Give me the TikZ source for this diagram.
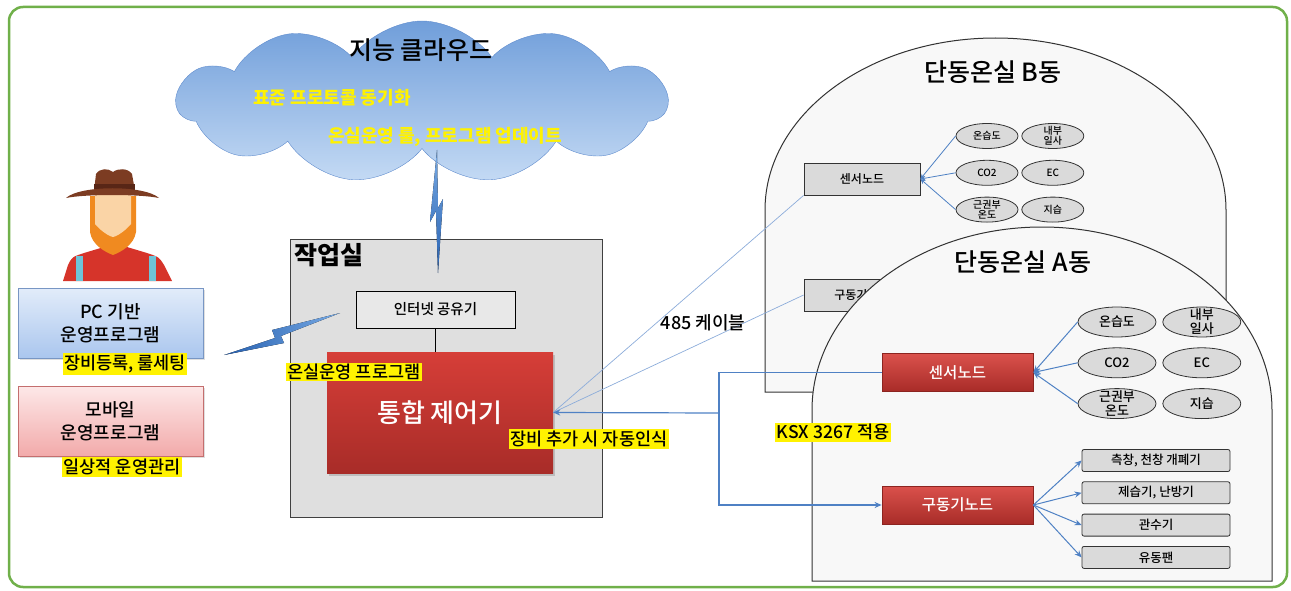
\documentclass[tikz,border=0pt]{standalone}
\usepackage{fontspec}
\setmainfont{Noto Sans CJK KR}
\newfontfamily\medfont{Noto Sans CJK KR Medium}
\usetikzlibrary{positioning, arrows.meta, shapes.geometric, shapes.symbols, shadows}

\definecolor{framegreen}{RGB}{112,176,74}
\definecolor{cloudtop}{RGB}{112,158,218}
\definecolor{cloudbot}{RGB}{196,218,244}
\definecolor{cloudedge}{RGB}{96,140,205}
\definecolor{boltdark}{RGB}{38,96,176}
\definecolor{boltlight}{RGB}{120,170,228}
\definecolor{pctop}{RGB}{226,236,250}
\definecolor{pcbot}{RGB}{170,198,238}
\definecolor{pcedge}{RGB}{120,150,196}
\definecolor{mobtop}{RGB}{253,232,232}
\definecolor{mobbot}{RGB}{242,170,170}
\definecolor{mobedge}{RGB}{196,110,110}
\definecolor{roomgray}{RGB}{223,223,223}
\definecolor{routergray}{RGB}{232,232,232}
\definecolor{ctrltop}{RGB}{214,62,56}
\definecolor{ctrlbot}{RGB}{168,44,40}
\definecolor{reddark}{RGB}{140,36,32}
\definecolor{housefill}{RGB}{248,248,248}
\definecolor{graybox}{RGB}{218,218,218}
\definecolor{linkblue}{RGB}{79,129,196}
\definecolor{cableblue}{RGB}{140,172,218}
\definecolor{shirtred}{RGB}{214,52,42}
\definecolor{strapblue}{RGB}{110,196,216}
\definecolor{beard}{RGB}{240,138,32}
\definecolor{skin}{RGB}{250,212,166}
\definecolor{hatbrown}{RGB}{124,60,34}
\definecolor{hatdark}{RGB}{88,38,22}

\begin{document}
\begin{tikzpicture}[
    x=1pt, y=-1pt,
    frame/.style={draw=framegreen, line width=2.5pt, rounded corners=14pt},
    cloudtxt/.style={text=yellow, font=\fontsize{18}{20}\selectfont\bfseries},
    pcbox/.style={rectangle, draw=pcedge, top color=pctop, bottom color=pcbot, minimum width=185pt, minimum height=70pt, align=center, font=\medfont\fontsize{18}{23}\selectfont, drop shadow={opacity=0.25, shadow xshift=1.5pt, shadow yshift=-2pt}},
    mobbox/.style={pcbox, draw=mobedge, top color=mobtop, bottom color=mobbot},
    hl/.style={fill=yellow, inner sep=1.5pt, font=\medfont\fontsize{17.5}{20}\selectfont},
    room/.style={rectangle, draw=black!75, fill=roomgray, line width=1pt, minimum width=312pt, minimum height=278pt},
    router/.style={rectangle, draw=black, fill=routergray, line width=0.8pt, minimum width=159pt, minimum height=37pt, font=\medfont\fontsize{14.5}{16}\selectfont},
    ctrl/.style={rectangle, top color=ctrltop, bottom color=ctrlbot, text=white, minimum width=226pt, minimum height=121pt, font=\medfont\fontsize{26}{28}\selectfont, drop shadow={opacity=0.35, shadow xshift=2pt, shadow yshift=-3pt}},
    bolt/.style={top color=boltlight, bottom color=boltdark, draw=none},
    house/.style={draw=black!80, fill=housefill, line width=1pt},
    title/.style={font=\medfont\fontsize{25}{27}\selectfont},
    nodeB/.style={rectangle, draw=black!80, fill=graybox, line width=0.8pt, minimum width=116pt, minimum height=32pt, font=\medfont\fontsize{12}{14}\selectfont},
    nodeA/.style={rectangle, draw=reddark, top color=ctrltop!90!white, bottom color=ctrlbot, text=white, line width=0.8pt, minimum width=151pt, minimum height=38pt, font=\medfont\fontsize{15.5}{17}\selectfont},
    sensB/.style={ellipse, draw=black!80, fill=graybox, line width=0.8pt, minimum width=62pt, minimum height=25pt, inner xsep=0pt, inner ysep=-6pt, align=center, font=\medfont\fontsize{10}{10.5}\selectfont},
    sensA/.style={ellipse, draw=black!80, fill=graybox, line width=0.8pt, minimum width=78pt, minimum height=30pt, inner xsep=0pt, inner ysep=-7pt, align=center, font=\medfont\fontsize{13}{14}\selectfont},
    actbox/.style={rectangle, rounded corners=2pt, draw=black!80, fill=graybox, line width=0.8pt, minimum width=148pt, minimum height=22pt, font=\medfont\fontsize{12.5}{14}\selectfont},
    feed/.style={draw=linkblue, line width=1pt, -{Stealth[length=7pt, width=6pt]}},
    bus/.style={draw=linkblue, line width=1.2pt},
    cable/.style={draw=cableblue, line width=0.7pt}
]
\useasboundingbox (0,0) rectangle (1291,591);

% outer frame
\draw[frame] (9,7) rectangle (1287,587);

% cloud with its texts
\node[cloud, cloud puffs=11, cloud puff arc=110, aspect=3.1, draw=cloudedge, top color=cloudtop, bottom color=cloudbot, minimum width=490pt, minimum height=162pt] (cloud) at (422,102) {};
\node[title] (cloudtitle) at (421,50) {지능 클라우드};
\node[cloudtxt] (sync) at (332,98) {표준 프로토콜 동기화};
\node[cloudtxt] (update) at (445,137) {온실운영 룰, 프로그램 업데이트};

% farmer
\fill[shirtred] (63,281) -- (68,265) .. controls (72,257) .. (84,253) -- (104,247) -- (127,247) -- (147,253) .. controls (159,257) .. (164,265) -- (172,281) -- cycle;
\fill[strapblue] (76,256) rectangle (83,281);
\fill[strapblue] (149,256) rectangle (156,281);
\fill[beard] (90,196) -- (90,232) .. controls (92,245) and (105,252) .. (113,255) .. controls (121,252) and (134,245) .. (136,232) -- (136,196) -- cycle;
\fill[skin] (95,194) -- (95,224) .. controls (100,230) and (108,236) .. (113,237) .. controls (118,236) and (126,230) .. (131,224) -- (131,194) -- cycle;
\fill[hatbrown] (94,191) -- (96,174) .. controls (100,168) and (108,168) .. (113,172) .. controls (118,168) and (128,168) .. (132,174) -- (135,191) -- cycle;
\fill[hatdark] (94,184) rectangle (135,190);
\fill[hatbrown] (66,198) .. controls (80,185) and (145,185) .. (159,198) .. controls (140,194) and (85,194) .. (66,198);

% operating programs
\node[pcbox] (pc) at (110.5,323) {PC 기반\\운영프로그램};
\node[hl] (pcnote) at (125,364) {장비등록, 룰세팅};
\node[mobbox] (mobile) at (110.5,421) {모바일\\운영프로그램};
\node[hl] (mobnote) at (122,467) {일상적 운영관리};

% work room
\node[room] (workroom) at (446,378) {};
\node[title, font=\bfseries\fontsize{25}{27}\selectfont, anchor=north west, inner sep=5pt] (roomtitle) at (workroom.north west) {작업실};
\node[router] (router) at (435.5,309.5) {인터넷 공유기};
\node[ctrl] (ctrl) at (440,412.5) {통합 제어기};
\draw[line width=0.8pt] (router.south) -- (router.south |- ctrl.north);
\node[hl] (prognote) at (354,372) {온실운영 프로그램};

% wireless links
\fill[bolt] (437,150) -- (430,222) -- (436,211) -- (438,273) -- (443,199) -- (438,208) -- cycle;
\fill[left color=boltdark, right color=boltlight] (224,355) -- (284,343) -- (281,336) -- (340,313) -- (272,330) -- (275,338) -- cycle;

% greenhouse B
\draw[house] (765,392) -- (765,210) arc[start angle=180, end angle=0, x radius=230.5pt, y radius=172pt] -- (1226,392) -- cycle;
\node[title] (titleB) at (993,72) {단동온실 B동};
\node[nodeB] (sensnodeB) at (862,179) {센서노드};
\node[nodeB] (actnodeB) at (862,295) {구동기노드};
\node[sensB] (thB) at (987,136) {온습도};
\node[sensB, right=3pt of thB] (sunB) {내부\\일사};
\node[sensB, below=11pt of thB] (coB) {CO2};
\node[sensB, right=3pt of coB] (ecB) {EC};
\node[sensB, below=11pt of coB] (rootB) {근권부\\온도};
\node[sensB, right=3pt of rootB] (soilB) {지습};
\foreach \s in {thB, coB, rootB}
    \draw[feed, line width=0.8pt, -{Stealth[length=5pt, width=4.5pt]}] (\s.west) -- (sensnodeB.east);

% greenhouse A
\draw[house] (812,581) -- (812,410) arc[start angle=180, end angle=0, x radius=230pt, y radius=183pt] -- (1272,581) -- cycle;
\node[title] (titleA) at (1023,262) {단동온실 A동};
\node[nodeA] (sensnodeA) at (957.5,372.5) {센서노드};
\node[nodeA] (actnodeA) at (957.5,505) {구동기노드};
\node[sensA] (thA) at (1117,322) {온습도};
\node[sensA, right=6pt of thA] (sunA) {내부\\일사};
\node[sensA, below=10pt of thA] (coA) {CO2};
\node[sensA, right=6pt of coA] (ecA) {EC};
\node[sensA, below=10pt of coA] (rootA) {근권부\\온도};
\node[sensA, right=6pt of rootA] (soilA) {지습};
\foreach \s in {thA, coA, rootA}
    \draw[feed] (\s.west) -- (sensnodeA.east);

% actuators
\node[actbox] (vent) at (1156,460.5) {측창, 천창 개폐기};
\node[actbox, below=9.5pt of vent] (heater) {제습기, 난방기};
\node[actbox, below=9.5pt of heater] (irrig) {관수기};
\node[actbox, below=9.5pt of irrig] (fan) {유동팬};
\foreach \a in {vent, heater, irrig, fan}
    \draw[feed] (actnodeA.east) -- (\a.west);

% field bus
\coordinate (hub) at (719,413);
\draw[cable] (ctrl.east) -- (sensnodeB.south west);
\draw[cable] (ctrl.east) -- (actnodeB.west);
\draw[bus] (sensnodeA.west) -| (hub);
\draw[bus, -{Stealth[length=7pt, width=6pt]}] (hub) -- (ctrl.east);
\draw[bus, -{Stealth[length=7pt, width=6pt]}] (hub) |- (actnodeA.west);

% labels
\node[font=\medfont\fontsize{18}{20}\selectfont, inner sep=1pt] (cablelabel) at (703,323) {485 케이블};
\node[hl] (autonote) at (589,439) {장비 추가 시 자동인식};
\node[hl] (ksx) at (833,432) {KSX 3267 적용};

\end{tikzpicture}
\end{document}
